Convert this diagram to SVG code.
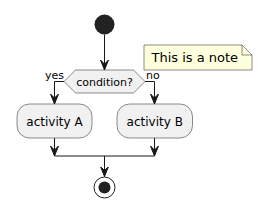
<svg xmlns="http://www.w3.org/2000/svg" width="272" height="217" viewBox="0 0 272 217">
<defs>
<style>
text{font-family:"DejaVu Sans","Liberation Sans",sans-serif;fill:#000}
.act{fill:#F1F1F1;stroke:#181818;stroke-width:0.5}
.ln{fill:none;stroke:#181818;stroke-width:1}
.ah{fill:#181818;stroke:#181818;stroke-width:1}
</style>
<marker id="arr" viewBox="0 0 12 12" refX="10" refY="6" markerWidth="12" markerHeight="12" markerUnits="userSpaceOnUse" orient="auto">
<path d="M0,2 L10,6 L0,10 L4,6 Z" class="ah"/>
</marker>
</defs>
<rect width="272" height="217" fill="#FFFFFF"/>
<g id="connectors">
<path class="ln" d="M104.5,34.5 V70" marker-end="url(#arr)"/>
<path class="ln" d="M64,81.5 H54.5 V104" marker-end="url(#arr)"/>
<path class="ln" d="M145,81.5 H154.5 V104" marker-end="url(#arr)"/>
<path class="ln" d="M54.5,138 V156" marker-end="url(#arr)"/>
<path class="ln" d="M154.5,138 V156" marker-end="url(#arr)"/>
<path class="ln" d="M54.5,156 H154.5"/>
<path class="ln" d="M104.5,156 V176.5" marker-end="url(#arr)"/>
<text x="45" y="79" font-size="11">yes</text>
<text x="146" y="79" font-size="11">no</text>
</g>
<g id="start">
<circle cx="104.5" cy="24.5" r="10" fill="#222222"/>
</g>
<g id="condition">
<polygon class="act" points="64,81.5 75.5,70 133.5,70 145,81.5 133.5,93 75.5,93"/>
<text x="104.5" y="85.5" font-size="11" text-anchor="middle">condition?</text>
</g>
<g id="note">
<path d="M144,45 H242 L252,55 V70 H144 Z" fill="#FEFFDD" stroke="#181818" stroke-width="0.5"/>
<path d="M242,45 V55 H252" fill="none" stroke="#181818" stroke-width="0.5"/>
<text x="151.5" y="62" font-size="13">This is a note</text>
</g>
<g id="activityA">
<rect class="act" x="17" y="104" width="75" height="34" rx="12.5"/>
<text x="54.5" y="125.5" font-size="12" text-anchor="middle">activity A</text>
</g>
<g id="activityB">
<rect class="act" x="117" y="104" width="75.5" height="34" rx="12.5"/>
<text x="154.75" y="125.5" font-size="12" text-anchor="middle">activity B</text>
</g>
<g id="stop">
<circle cx="104.5" cy="187.5" r="10.5" fill="none" stroke="#222222" stroke-width="1"/>
<circle cx="104.5" cy="187.5" r="6" fill="#222222"/>
</g>
</svg>
